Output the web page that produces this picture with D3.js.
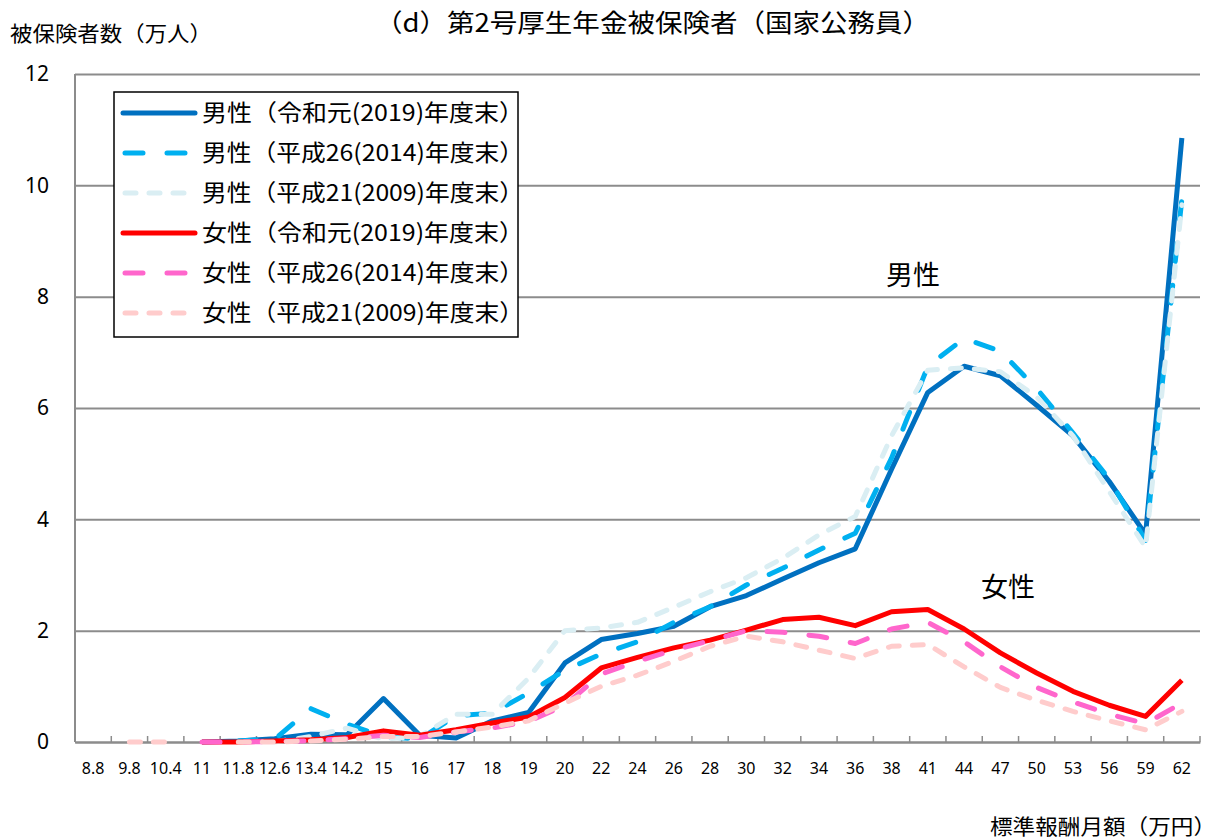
<!DOCTYPE html>
<html>
<head>
<meta charset="utf-8">
<script src="https://cdn.jsdelivr.net/npm/d3@7"></script>
<style>
  body { margin: 0; background: #fff; }
  text { font-family: "Noto Sans CJK JP", "Noto Sans", sans-serif; fill: #000; }
</style>
</head>
<body>
<div class="chart"></div>
<script>
// 標準報酬月額 (万円)
const categories = ['8.8','9.8','10.4','11','11.8','12.6','13.4','14.2','15','16','17','18','19','20','22','24','26','28','30','32','34','36','38','41','44','47','50','53','56','59','62'];
const yTicks = [0, 2, 4, 6, 8, 10, 12];

// 被保険者数 (万人), null = no point
const male2019   = [null,null,null,0,0.02,0.06,0.14,0.13,0.78,0.12,0.07,0.38,0.53,1.42,1.84,1.95,2.08,2.43,2.63,2.93,3.22,3.47,4.9,6.28,6.75,6.58,6.05,5.5,4.68,3.73,10.85];
const male2014   = [null,null,null,null,0.02,0.05,0.6,0.32,0.1,0.05,0.47,0.52,0.88,1.29,1.58,1.8,2.15,2.43,2.82,3.12,3.45,3.75,5.1,6.75,7.25,7.02,6.35,5.55,4.72,3.62,9.75];
const male2009   = [null,null,null,null,null,0,0.1,0.25,0.05,0.1,0.5,0.5,1.15,2.0,2.05,2.15,2.42,2.7,2.95,3.3,3.72,4.05,5.5,6.68,6.72,6.65,6.2,5.5,4.5,3.5,9.65];
const female2019 = [null,null,null,0,0,0.02,0.04,0.08,0.2,0.12,0.22,0.34,0.45,0.8,1.33,1.52,1.69,1.83,2.01,2.2,2.24,2.09,2.34,2.38,2.03,1.6,1.24,0.91,0.66,0.46,1.11];
const female2014 = [null,null,null,0,0,0.01,0.02,0.06,0.12,0.08,0.18,0.25,0.37,0.66,1.22,1.45,1.65,1.82,2.0,1.97,1.9,1.77,2.03,2.15,1.8,1.35,0.98,0.72,0.5,0.33,0.7];
const female2009 = [null,0,0,null,0,0,0.02,0.05,0.1,0.1,0.18,0.27,0.38,0.7,1.0,1.2,1.45,1.72,1.9,1.8,1.65,1.5,1.72,1.75,1.35,0.98,0.75,0.55,0.38,0.22,0.55];

const seriesNames = ['男性（令和元(2019)年度末）','男性（平成26(2014)年度末）','男性（平成21(2009)年度末）','女性（令和元(2019)年度末）','女性（平成26(2014)年度末）','女性（平成21(2009)年度末）'];
const seriesValues = [male2019, male2014, male2009, female2019, female2014, female2009];
const seriesColors = ['#0070C0','#00B0F0','#DAEEF3','#FF0000','#FF66CC','#FFCCCC'];
const seriesDash = [null, '18,24', '11,13', null, '18,24', '11,13'];

const W = 1211, H = 839;
const margin = {top: 74, right: 11, bottom: 97, left: 75};
const width = W - margin.left - margin.right;
const height = H - margin.top - margin.bottom;

const svg = d3.select('.chart').append('svg')
    .attr('width', W)
    .attr('height', H);

const g = svg.append('g')
    .attr('transform', `translate(${margin.left},${margin.top})`);

const xScale = d3.scaleBand()
    .domain(categories)
    .range([0, width]);

const yScale = d3.scaleLinear()
    .domain([0, 12])
    .range([height, 0]);

// gridlines
g.append('g')
    .call(d3.axisLeft(yScale).tickValues(yTicks).tickSize(-width).tickFormat(''))
    .call(s => s.select('.domain').remove())
    .call(s => s.selectAll('line').attr('stroke', '#8c8c8c').attr('stroke-width', 2));

// y axis line
g.append('line')
    .attr('x1', 0).attr('x2', 0)
    .attr('y1', 0).attr('y2', height)
    .attr('stroke', '#8c8c8c').attr('stroke-width', 2);

// y tick labels
g.append('g')
    .call(d3.axisLeft(yScale).tickValues(yTicks).tickSize(0).tickPadding(26).tickFormat(d3.format('d')))
    .call(s => s.select('.domain').remove())
    .call(s => s.selectAll('text').attr('font-size', 21).style('font-family', '"Noto Sans", sans-serif'));

// x axis
g.append('g')
    .attr('transform', `translate(0,${height})`)
    .call(d3.axisBottom(xScale).tickSize(0).tickPadding(21))
    .call(s => s.select('.domain').attr('stroke', '#8c8c8c').attr('stroke-width', 2))
    .call(s => s.selectAll('text').attr('font-size', 16).style('font-family', '"Noto Sans", sans-serif'));

// x ticks at band boundaries, pointing inward
g.append('g').selectAll('line')
    .data(d3.range(categories.length + 1))
    .enter()
    .append('line')
    .attr('x1', d => d * xScale.step())
    .attr('x2', d => d * xScale.step())
    .attr('y1', height)
    .attr('y2', height - 6)
    .attr('stroke', '#8c8c8c')
    .attr('stroke-width', 1.5);

// lines
const line = d3.line()
    .defined(d => d != null)
    .x((d, i) => xScale(categories[i]) + xScale.bandwidth() / 2)
    .y(d => yScale(d));

seriesValues.forEach((vals, k) => {
    g.append('path')
        .datum(vals)
        .attr('fill', 'none')
        .attr('stroke', seriesColors[k])
        .attr('stroke-width', 5)
        .attr('stroke-linejoin', 'round')
        .attr('stroke-linecap', seriesDash[k] ? 'round' : 'butt')
        .attr('stroke-dasharray', seriesDash[k])
        .attr('d', line);
});

// titles
svg.append('text')
    .attr('x', 375).attr('y', 32)
    .attr('font-size', 25)
    .attr('textLength', 555)
    .attr('lengthAdjust', 'spacingAndGlyphs')
    .text('（d）第2号厚生年金被保険者（国家公務員）');

svg.append('text')
    .attr('x', 10).attr('y', 41)
    .attr('font-size', 21)
    .attr('textLength', 202)
    .attr('lengthAdjust', 'spacingAndGlyphs')
    .text('被保険者数（万人）');

svg.append('text')
    .attr('x', 990).attr('y', 834)
    .attr('font-size', 21)
    .attr('textLength', 226)
    .attr('lengthAdjust', 'spacingAndGlyphs')
    .text('標準報酬月額（万円）');

// annotations
svg.append('text')
    .attr('x', 913).attr('y', 285)
    .attr('text-anchor', 'middle')
    .attr('font-size', 27)
    .text('男性');

svg.append('text')
    .attr('x', 1008).attr('y', 597)
    .attr('text-anchor', 'middle')
    .attr('font-size', 27)
    .text('女性');

// legend
const legend = svg.append('g').attr('transform', 'translate(114,92)');
legend.append('rect')
    .attr('width', 404).attr('height', 245)
    .attr('fill', '#fff')
    .attr('stroke', '#000')
    .attr('stroke-width', 1.5);

const items = legend.selectAll('.legend')
    .data(seriesNames)
    .enter()
    .append('g')
    .attr('transform', (d, i) => `translate(0,${21 + i * 40})`);

items.append('line')
    .attr('x1', (d, i) => seriesDash[i] ? 11 : 9)
    .attr('x2', (d, i) => seriesDash[i] ? 79 : 81)
    .attr('stroke', (d, i) => seriesColors[i])
    .attr('stroke-width', 5)
    .attr('stroke-linecap', 'round')
    .attr('stroke-dasharray', (d, i) => seriesDash[i]);

items.append('text')
    .attr('x', 88)
    .attr('y', 8)
    .attr('font-size', 23)
    .attr('textLength', 322)
    .attr('lengthAdjust', 'spacingAndGlyphs')
    .text(d => d);
</script>
</body>
</html>
